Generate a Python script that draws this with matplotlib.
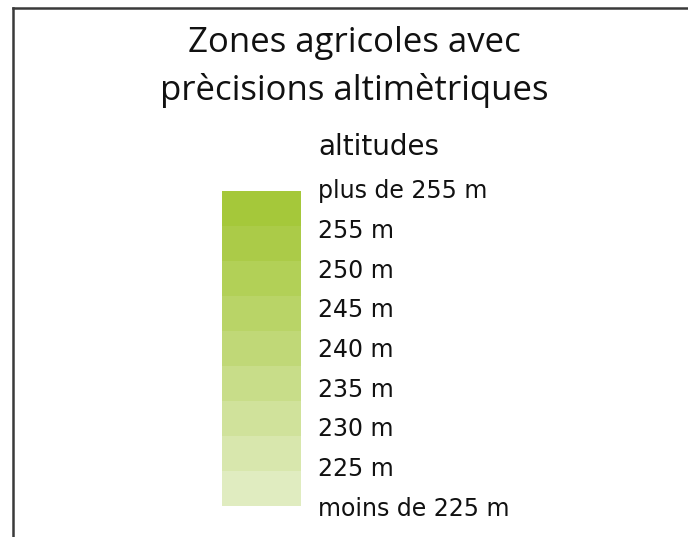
import matplotlib
matplotlib.use("Agg")
import matplotlib.pyplot as plt
from matplotlib.lines import Line2D

W, H, DPI = 688, 537, 100

title_lines = ["Zones agricoles avec", "prècisions altimètriques"]
legend_title = "altitudes"
categories = ["plus de 255 m", "255 m", "250 m", "245 m", "240 m",
              "235 m", "230 m", "225 m", "moins de 225 m"]
colors = ["#a5c83a", "#abcb48", "#b2d057", "#b9d467", "#c0d877",
          "#c8dd89", "#d0e29b", "#d8e7ad", "#e0ecc0"]

fig = plt.figure(figsize=(W / DPI, H / DPI), dpi=DPI)
fig.patch.set_facecolor("white")

def fx(px):
    return px / W

def fy(py):
    return 1 - py / H

# frame (top and left border)
fig.add_artist(Line2D([fx(13), fx(13)], [fy(8), fy(540)], color="#3a3a3a", lw=1.8,
                      transform=fig.transFigure))
fig.add_artist(Line2D([fx(13), fx(690)], [fy(8), fy(8)], color="#3a3a3a", lw=1.8,
                      transform=fig.transFigure))

# title
for line, base in zip(title_lines, [52, 100]):
    fig.text(fx(354), fy(base), line, ha="center", va="baseline", fontsize=25,
             family="Open Sans", color="#111111")

fig.text(fx(318), fy(155), legend_title, ha="left", va="baseline", fontsize=20,
         family="DejaVu Sans", color="#111111")

# colour ramp
bar_left, bar_top, bar_right, bar_bottom = 222, 191, 301, 506
ax = fig.add_axes([fx(bar_left), fy(bar_bottom), fx(bar_right - bar_left),
                   (bar_bottom - bar_top) / H])
n = len(categories)
ax.barh(range(n), [1] * n, height=1.0, color=colors, edgecolor="none")
ax.set_xlim(0, 1)
ax.set_ylim(n - 0.5, -0.5)
ax.axis("off")

# labels
lab_top, lab_bottom = 198, 516
step = (lab_bottom - lab_top) / (n - 1)
for i, lab in enumerate(categories):
    fig.text(fx(318), fy(lab_top + i * step), lab, ha="left", va="baseline",
             fontsize=17, family="DejaVu Sans", color="#111111")

fig.savefig("out.png", dpi=DPI, facecolor="white")
